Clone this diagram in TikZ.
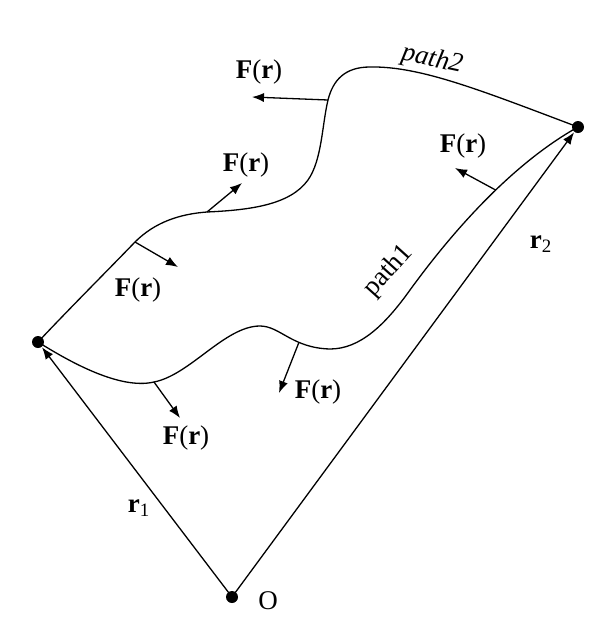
\documentclass[tikz,border=0pt]{standalone}
\usepackage{fontspec}
\setmainfont{Liberation Serif}
\usetikzlibrary{arrows.meta}

\begin{document}
\begin{tikzpicture}[x=0.5pt, y=-0.5pt, line width=0.65pt, >={Latex[length=6pt,width=4.6pt]},
  dot/.style={circle, fill, inner sep=0pt, minimum size=6pt},
  lbl/.style={font=\fontsize{13.5}{16}\selectfont, inner sep=0pt},
  force/.style={->}]
  \useasboundingbox (0,0) rectangle (605,617);
  % end points and origin
  \node[dot](O) at (232,597){};
  \node[dot](A) at (38,342){};
  \node[dot](B) at (578,127){};
  % position vectors
  \draw[->](O.center)--(A);
  \draw[->](O.center)--(B);
  \node[lbl](r1) at (139,508){\textbf{r}\textsubscript{1}};
  \node[lbl](r2) at (541,244){\textbf{r}\textsubscript{2}};
  \node[lbl](o) at (268,601){O};
  % path2
  \draw (A.center) .. controls (70,308) and (110,268) .. (135,242) coordinate (q1)
    .. controls (155,222) and (180,214) .. (207,212) coordinate (q2)
    .. controls (250,210) and (290,205) .. (308,180)
    .. controls (322,160) and (322,125) .. (328,100) coordinate (q3)
    .. controls (333,80) and (345,67) .. (370,67)
    .. controls (420,66) and (480,90) .. (B.center);
  \node[lbl, rotate=-12](p2) at (432,60){\itshape path2};
  % path1
  \draw (A.center) .. controls (70,362) and (120,390) .. (154,382) coordinate (s1)
    .. controls (190,375) and (225,326) .. (260,326)
    .. controls (280,326) and (292,348) .. coordinate[pos=0.66] (s2) (330,349)
    .. controls (360,349) and (385,325) .. (410,290)
    .. controls (450,235) and (510,165) .. coordinate[pos=0.57] (s3) (B.center);
  \node[lbl, rotate=48](p1) at (389,271){path1};
  % forces along path2
  \draw[force](q3)--(252,97) coordinate (t3);
  \draw[force](q2)--(242,183) coordinate (t2);
  \draw[force](q1)--(178,267) coordinate (t1);
  \node[lbl](f3) at (259,72){\textbf{F}(\textbf{r})};
  \node[lbl](f2) at (246,165){\textbf{F}(\textbf{r})};
  \node[lbl](f1) at (138,290){\textbf{F}(\textbf{r})};
  % forces along path1
  \draw[force](s3)--(455,168) coordinate (u3);
  \draw[force](s2)--(279,393) coordinate (u2);
  \draw[force](s1)--(180,418) coordinate (u1);
  \node[lbl](g3) at (463,146){\textbf{F}(\textbf{r})};
  \node[lbl](g2) at (318,392){\textbf{F}(\textbf{r})};
  \node[lbl](g1) at (186,438){\textbf{F}(\textbf{r})};
\end{tikzpicture}
\end{document}
